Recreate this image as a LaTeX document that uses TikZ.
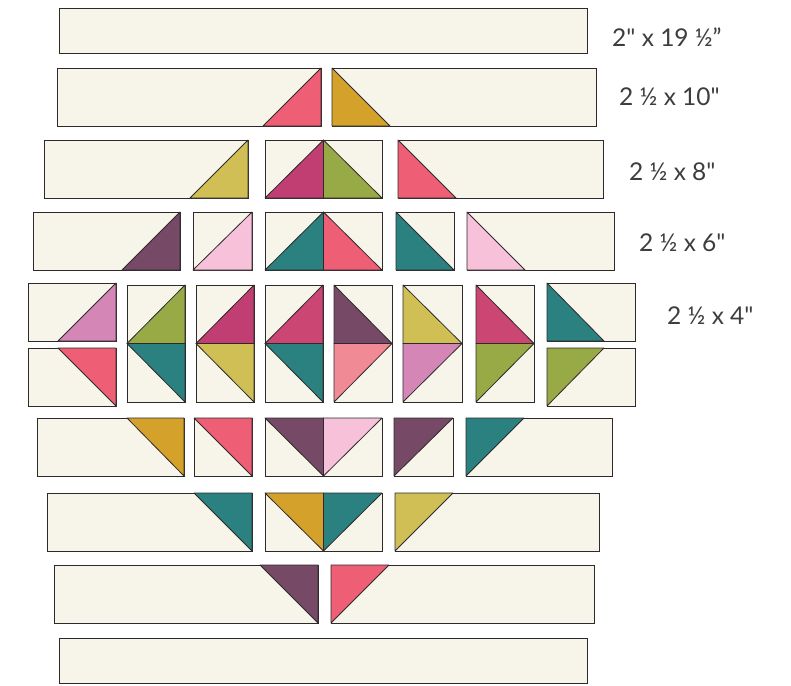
\documentclass[tikz,border=0pt]{standalone}
\usepackage{fontspec}
\newfontfamily\cutfont{Lato}
\definecolor{edge}{HTML}{2E2A2B}
\definecolor{cream}{HTML}{F7F5E9}
\definecolor{coral}{HTML}{EE5E74}
\definecolor{gold}{HTML}{D4A12B}
\definecolor{olive}{HTML}{CFBF55}
\definecolor{magenta}{HTML}{C13E73}
\definecolor{raspberry}{HTML}{CB4673}
\definecolor{leaf}{HTML}{98AA45}
\definecolor{teal}{HTML}{2A8180}
\definecolor{plum}{HTML}{764A66}
\definecolor{blush}{HTML}{F6C1D9}
\definecolor{orchid}{HTML}{D486B6}
\definecolor{salmon}{HTML}{F08B96}
\definecolor{ink}{HTML}{3D3D3D}
\begin{document}
\begin{tikzpicture}[
        x=1pt, y=-1pt,
        patch/.style={rectangle, draw=edge, fill=cream, line width=0.9pt, inner sep=0pt, outer sep=0pt, anchor=north west, minimum height=58pt},
        tri/.style={draw=edge, line width=0.8pt, line join=round},
        cutlabel/.style={font=\cutfont\fontsize{24.5}{28}\selectfont, text=ink, anchor=west, inner sep=0pt}
    ]
        \useasboundingbox (0, 0) rectangle (791, 685);
        % row 1
        \node[patch, minimum width=528pt, minimum height=45pt] (r1) at (59, 8) {};
        % row 2
        \node[patch, minimum width=264pt] (r2l) at (57, 68) {};
        \node[patch, minimum width=264pt] (r2r) at (332, 68) {};
        \filldraw[tri, fill=coral] (r2l.south east) -- (r2l.north east) -- ([xshift=-58pt]r2l.south east) -- cycle;
        \filldraw[tri, fill=gold] (r2r.north west) -- (r2r.south west) -- ([xshift=58pt]r2r.south west) -- cycle;
        % row 3
        \node[patch, minimum width=204pt] (r3l) at (44, 140) {};
        \node[patch, minimum width=117pt] (r3m) at (265, 140) {};
        \node[patch, minimum width=205pt] (r3r) at (398, 140) {};
        \filldraw[tri, fill=olive] (r3l.south east) -- (r3l.north east) -- ([xshift=-58pt]r3l.south east) -- cycle;
        \filldraw[tri, fill=magenta] (r3m.south west) -- (r3m.north) -- (r3m.south) -- cycle;
        \filldraw[tri, fill=leaf] (r3m.north) -- (r3m.south east) -- (r3m.south) -- cycle;
        \filldraw[tri, fill=coral] (r3r.north west) -- (r3r.south west) -- ([xshift=58pt]r3r.south west) -- cycle;
        % row 4
        \node[patch, minimum width=147pt] (r4l) at (33, 212) {};
        \node[patch, minimum width=59pt] (r4a) at (193, 212) {};
        \node[patch, minimum width=117pt] (r4m) at (265, 212) {};
        \node[patch, minimum width=58pt] (r4b) at (396, 212) {};
        \node[patch, minimum width=147pt] (r4r) at (467, 212) {};
        \filldraw[tri, fill=plum] (r4l.south east) -- (r4l.north east) -- ([xshift=-58pt]r4l.south east) -- cycle;
        \filldraw[tri, fill=blush] (r4a.south west) -- (r4a.north east) -- (r4a.south east) -- cycle;
        \filldraw[tri, fill=teal] (r4m.south west) -- (r4m.north) -- (r4m.south) -- cycle;
        \filldraw[tri, fill=coral] (r4m.north) -- (r4m.south east) -- (r4m.south) -- cycle;
        \filldraw[tri, fill=teal] (r4b.north west) -- (r4b.south east) -- (r4b.south west) -- cycle;
        \filldraw[tri, fill=blush] (r4r.north west) -- (r4r.south west) -- ([xshift=58pt]r4r.south west) -- cycle;
        % row 5
        \node[patch, minimum width=88pt] (r5ul) at (28, 283) {};
        \node[patch, minimum width=88pt] (r5ll) at (28, 348) {};
        \node[patch, minimum width=58pt, minimum height=117pt] (k1) at (127, 285) {};
        \node[patch, minimum width=58pt, minimum height=117pt] (k2) at (196, 285) {};
        \node[patch, minimum width=58pt, minimum height=117pt] (k3) at (265, 285) {};
        \node[patch, minimum width=58pt, minimum height=117pt] (k4) at (334, 285) {};
        \node[patch, minimum width=59pt, minimum height=117pt] (k5) at (403, 285) {};
        \node[patch, minimum width=58pt, minimum height=117pt] (k6) at (476, 285) {};
        \node[patch, minimum width=88pt] (r5ur) at (547, 283) {};
        \node[patch, minimum width=88pt] (r5lr) at (547, 348) {};
        \filldraw[tri, fill=orchid] (r5ul.south east) -- (r5ul.north east) -- ([xshift=-58pt]r5ul.south east) -- cycle;
        \filldraw[tri, fill=coral] (r5ll.north east) -- (r5ll.south east) -- ([xshift=-58pt]r5ll.north east) -- cycle;
        \filldraw[tri, fill=leaf] (k1.west) -- (k1.north east) -- (k1.east) -- cycle;
        \filldraw[tri, fill=teal] (k1.west) -- (k1.east) -- (k1.south east) -- cycle;
        \filldraw[tri, fill=magenta] (k2.west) -- (k2.north east) -- (k2.east) -- cycle;
        \filldraw[tri, fill=olive] (k2.west) -- (k2.east) -- (k2.south east) -- cycle;
        \filldraw[tri, fill=raspberry] (k3.west) -- (k3.north east) -- (k3.east) -- cycle;
        \filldraw[tri, fill=teal] (k3.west) -- (k3.east) -- (k3.south east) -- cycle;
        \filldraw[tri, fill=plum] (k4.north west) -- (k4.east) -- (k4.west) -- cycle;
        \filldraw[tri, fill=salmon] (k4.west) -- (k4.east) -- (k4.south west) -- cycle;
        \filldraw[tri, fill=olive] (k5.north west) -- (k5.east) -- (k5.west) -- cycle;
        \filldraw[tri, fill=orchid] (k5.west) -- (k5.east) -- (k5.south west) -- cycle;
        \filldraw[tri, fill=raspberry] (k6.north west) -- (k6.east) -- (k6.west) -- cycle;
        \filldraw[tri, fill=leaf] (k6.west) -- (k6.east) -- (k6.south west) -- cycle;
        \filldraw[tri, fill=teal] (r5ur.north west) -- (r5ur.south west) -- ([xshift=57pt]r5ur.south west) -- cycle;
        \filldraw[tri, fill=leaf] (r5lr.north west) -- ([xshift=57pt]r5lr.north west) -- (r5lr.south west) -- cycle;
        % row 6
        \node[patch, minimum width=147pt] (r6l) at (37, 418) {};
        \node[patch, minimum width=58pt] (r6a) at (194, 418) {};
        \node[patch, minimum width=117pt] (r6m) at (265, 418) {};
        \node[patch, minimum width=59pt] (r6b) at (394, 418) {};
        \node[patch, minimum width=146pt] (r6r) at (466, 418) {};
        \filldraw[tri, fill=gold] ([xshift=-57pt]r6l.north east) -- (r6l.north east) -- (r6l.south east) -- cycle;
        \filldraw[tri, fill=coral] (r6a.north west) -- (r6a.north east) -- (r6a.south east) -- cycle;
        \filldraw[tri, fill=plum] (r6m.north west) -- (r6m.north) -- (r6m.south) -- cycle;
        \filldraw[tri, fill=blush] (r6m.north) -- (r6m.north east) -- (r6m.south) -- cycle;
        \filldraw[tri, fill=plum] (r6b.north west) -- (r6b.north east) -- (r6b.south west) -- cycle;
        \filldraw[tri, fill=teal] (r6r.north west) -- ([xshift=58pt]r6r.north west) -- (r6r.south west) -- cycle;
        % row 7
        \node[patch, minimum width=205pt] (r7l) at (47, 493) {};
        \node[patch, minimum width=117pt] (r7m) at (265, 493) {};
        \node[patch, minimum width=204pt] (r7r) at (395, 493) {};
        \filldraw[tri, fill=teal] ([xshift=-58pt]r7l.north east) -- (r7l.north east) -- (r7l.south east) -- cycle;
        \filldraw[tri, fill=gold] (r7m.north west) -- (r7m.north) -- (r7m.south) -- cycle;
        \filldraw[tri, fill=teal] (r7m.north) -- (r7m.north east) -- (r7m.south) -- cycle;
        \filldraw[tri, fill=olive] (r7r.north west) -- ([xshift=58pt]r7r.north west) -- (r7r.south west) -- cycle;
        % row 8
        \node[patch, minimum width=264pt] (r8l) at (54, 565) {};
        \node[patch, minimum width=263pt] (r8r) at (331, 565) {};
        \filldraw[tri, fill=plum] ([xshift=-58pt]r8l.north east) -- (r8l.north east) -- (r8l.south east) -- cycle;
        \filldraw[tri, fill=coral] (r8r.north west) -- ([xshift=58pt]r8r.north west) -- (r8r.south west) -- cycle;
        % row 9
        \node[patch, minimum width=528pt, minimum height=45pt] (r9) at (59, 638) {};
        % cut sizes
        \node[cutlabel] (c1) at (612, 37) {2" x 19 ½”};
        \node[cutlabel] (c2) at (619, 97) {2 ½ x 10"};
        \node[cutlabel] (c3) at (629, 172) {2 ½ x 8"};
        \node[cutlabel] (c4) at (639, 243) {2 ½ x 6"};
        \node[cutlabel] (c5) at (667, 316) {2 ½ x 4"};
    \end{tikzpicture}
\end{document}
